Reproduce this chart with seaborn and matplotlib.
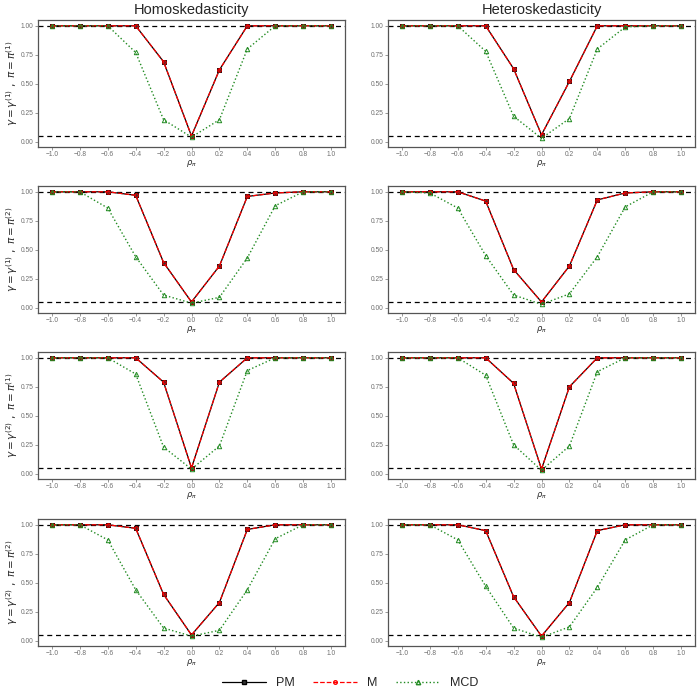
import numpy as np
import pandas as pd
import matplotlib
matplotlib.use("Agg")
import matplotlib.pyplot as plt
from matplotlib.lines import Line2D
import seaborn as sns

rho = [-1.0, -0.8, -0.6, -0.4, -0.2, 0.0, 0.2, 0.4, 0.6, 0.8, 1.0]

# rows: (gamma1, pi1), (gamma1, pi2), (gamma2, pi1), (gamma2, pi2); cols: homo, hetero
pm_homo_11 = [1, 1, 1, 1, 0.69, 0.05, 0.62, 1, 1, 1, 1]
mcd_homo_11 = [1, 1, 1, 0.77, 0.19, 0.04, 0.19, 0.80, 1, 1, 1]
pm_het_11 = [1, 1, 1, 1, 0.63, 0.06, 0.52, 1, 1, 1, 1]
mcd_het_11 = [1, 1, 1, 0.78, 0.22, 0.03, 0.20, 0.80, 0.99, 1, 1]

pm_homo_12 = [1, 1, 1, 0.97, 0.39, 0.05, 0.36, 0.96, 0.99, 1, 1]
mcd_homo_12 = [1, 1, 0.86, 0.44, 0.11, 0.04, 0.09, 0.43, 0.88, 1, 1]
pm_het_12 = [1, 1, 1, 0.92, 0.33, 0.05, 0.36, 0.93, 0.99, 1, 1]
mcd_het_12 = [1, 0.99, 0.86, 0.45, 0.11, 0.03, 0.12, 0.44, 0.87, 1, 1]

pm_homo_21 = [1, 1, 1, 1, 0.79, 0.05, 0.79, 1, 1, 1, 1]
mcd_homo_21 = [1, 1, 1, 0.86, 0.23, 0.04, 0.24, 0.89, 1, 1, 1]
pm_het_21 = [1, 1, 1, 1, 0.78, 0.04, 0.75, 1, 1, 1, 1]
mcd_het_21 = [1, 1, 1, 0.85, 0.25, 0.03, 0.24, 0.88, 1, 1, 1]

pm_homo_22 = [1, 1, 1, 0.97, 0.40, 0.05, 0.33, 0.96, 1, 1, 1]
mcd_homo_22 = [1, 1, 0.87, 0.44, 0.11, 0.04, 0.09, 0.44, 0.88, 1, 1]
pm_het_22 = [1, 1, 1, 0.95, 0.38, 0.04, 0.33, 0.95, 1, 1, 1]
mcd_het_22 = [1, 1, 0.87, 0.47, 0.11, 0.03, 0.12, 0.46, 0.87, 1, 1]

# M estimator is visually identical to PM
panels = [
    [(pm_homo_11, pm_homo_11, mcd_homo_11), (pm_het_11, pm_het_11, mcd_het_11)],
    [(pm_homo_12, pm_homo_12, mcd_homo_12), (pm_het_12, pm_het_12, mcd_het_12)],
    [(pm_homo_21, pm_homo_21, mcd_homo_21), (pm_het_21, pm_het_21, mcd_het_21)],
    [(pm_homo_22, pm_homo_22, mcd_homo_22), (pm_het_22, pm_het_22, mcd_het_22)],
]
col_titles = ["Homoskedasticity", "Heteroskedasticity"]
row_labels = [
    r"$\gamma = \gamma^{(1)}\ ,\ \pi = \pi^{(1)}$",
    r"$\gamma = \gamma^{(1)}\ ,\ \pi = \pi^{(2)}$",
    r"$\gamma = \gamma^{(2)}\ ,\ \pi = \pi^{(1)}$",
    r"$\gamma = \gamma^{(2)}\ ,\ \pi = \pi^{(2)}$",
]
yticks = [0.0, 0.25, 0.5, 0.75, 1.0]

STYLES = {
    "PM": dict(color="black", linestyle="-", marker="s", markersize=2.8,
               markerfacecolor="#333333", markeredgecolor="black", linewidth=0.9),
    "M": dict(color="red", linestyle="--", marker="o", markersize=2.6,
              markerfacecolor="none", markeredgecolor="red", linewidth=0.9),
    "MCD": dict(color="#228B22", linestyle=":", marker="^", markersize=3.2,
                markerfacecolor="none", markeredgecolor="#228B22", linewidth=1.0),
}

sns.set_theme(style="white")
plt.rcParams["font.family"] = ["Liberation Sans", "DejaVu Sans"]
plt.rcParams["mathtext.fontset"] = "dejavusans"

fig = plt.figure(figsize=(7, 7), dpi=100)
W, H = 700.0, 700.0
col_left = [38, 388]
col_w = 307
row_top = [20, 186, 352, 519]
row_h = 127

for r in range(4):
    for c in range(2):
        ax = fig.add_axes([col_left[c] / W, 1 - (row_top[r] + row_h) / H,
                           col_w / W, row_h / H])
        for name, vals in zip(["PM", "M", "MCD"], panels[r][c]):
            df = pd.DataFrame({"rho": rho, "power": vals})
            st = STYLES[name]
            sns.lineplot(data=df, x="rho", y="power", ax=ax, color=st["color"],
                         linestyle=st["linestyle"], linewidth=st["linewidth"],
                         marker=st["marker"], markersize=st["markersize"],
                         markerfacecolor=st["markerfacecolor"],
                         markeredgecolor=st["markeredgecolor"],
                         markeredgewidth=0.7, zorder=3)
        ax.axhline(1.0, color="black", linestyle="--", linewidth=0.9, dashes=(4, 3), zorder=2)
        ax.axhline(0.05, color="black", linestyle="--", linewidth=0.9, dashes=(4, 3), zorder=2)
        ax.set_xlim(-1.1, 1.1)
        ax.set_ylim(-0.045, 1.05)
        ax.set_xticks(rho)
        ax.set_xticklabels([f"{v:.1f}".replace("-", "\u2212") for v in rho])
        ax.set_yticks(yticks)
        ax.set_yticklabels([f"{v:.2f}" for v in yticks])
        ax.tick_params(axis="both", labelsize=4.8, labelcolor="#6e6e6e", color="#6e6e6e",
                       length=2, width=0.5, pad=1.2, direction="out", bottom=True, left=True)
        for sp in ax.spines.values():
            sp.set_color("#555555")
            sp.set_linewidth(0.9)
        ax.set_xlabel(r"$\rho_\pi$", fontsize=6, labelpad=0)
        if c == 0:
            ax.set_ylabel(row_labels[r], fontsize=7.5)
            ax.yaxis.set_label_coords(-0.06, 0.5)
        else:
            ax.set_ylabel("")
        if r == 0:
            ax.set_title(col_titles[c], fontsize=10.5, pad=4)

handles = [Line2D([0], [0], **STYLES[n]) for n in ["PM", "M", "MCD"]]
fig.legend(handles, ["PM", "M", "MCD"], loc="center", bbox_to_anchor=(0.5, 1 - 683 / H),
           ncol=3, frameon=False, fontsize=9, handlelength=3.5, columnspacing=1.5)

fig.savefig("out.png", dpi=100)
